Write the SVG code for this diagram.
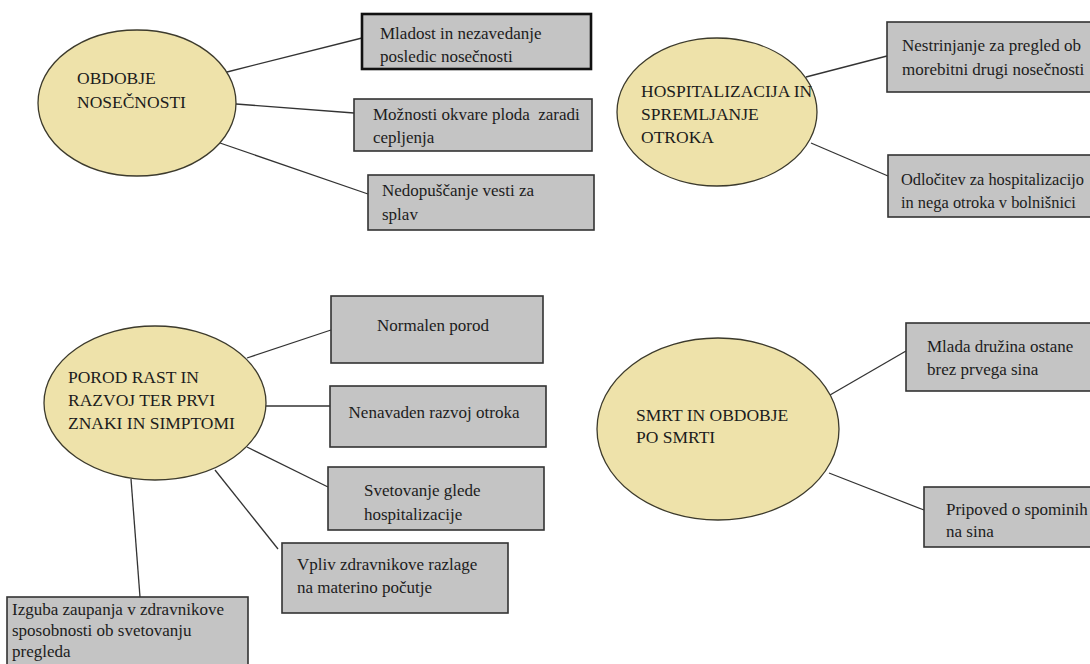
<svg xmlns="http://www.w3.org/2000/svg" width="1090" height="664" viewBox="0 0 1090 664" font-family="Liberation Serif, Times New Roman, serif">
<style>
.bg{fill:#ffffff}
.ell{fill:#EEE2AA;stroke:#3c3a2c;stroke-width:1.3}
.box{fill:#C4C4C4;stroke:#333333;stroke-width:1.6}
.box.thick{stroke:#111111;stroke-width:2.6}
.conn line{stroke:#333333;stroke-width:1.3}
text{font-size:17px;fill:#1c1c1c}
.et{font-size:17.5px}
.sm{font-size:16.4px}
.mid{text-anchor:middle}
</style>
<rect class="bg" x="0" y="0" width="1090" height="664"/>
<g id="connectors" class="conn">
<line x1="227" y1="72" x2="362" y2="38"/>
<line x1="236" y1="104" x2="354" y2="113"/>
<line x1="220" y1="143" x2="368" y2="194"/>
<line x1="806" y1="77" x2="887" y2="56"/>
<line x1="811" y1="143" x2="888" y2="176"/>
<line x1="247" y1="358" x2="331" y2="330"/>
<line x1="266" y1="406" x2="330" y2="406"/>
<line x1="247" y1="447" x2="328" y2="487"/>
<line x1="215" y1="470" x2="278" y2="549"/>
<line x1="131" y1="479" x2="140" y2="597"/>
<line x1="830" y1="395" x2="906" y2="351"/>
<line x1="829" y1="473" x2="924" y2="510"/>
</g>
<g id="n-obdobje">
<ellipse class="ell" cx="137" cy="103" rx="99" ry="73"/>
<text class="et" x="77" y="84">OBDOBJE</text>
<text class="et" x="77" y="108">NOSEČNOSTI</text>
</g>
<g id="n-mladost">
<rect class="box thick" x="362" y="14" width="229" height="55"/>
<text x="380" y="39">Mladost in nezavedanje</text>
<text x="380" y="62">posledic nosečnosti</text>
</g>
<g id="n-moznosti">
<rect class="box" x="354" y="99" width="238" height="52"/>
<text x="373" y="120" xml:space="preserve">Možnosti okvare ploda  zaradi</text>
<text x="373" y="143">cepljenja</text>
</g>
<g id="n-nedopuscanje">
<rect class="box" x="368" y="175" width="226" height="55"/>
<text x="382" y="196">Nedopuščanje vesti za</text>
<text x="382" y="220">splav</text>
</g>
<g id="n-hospitalizacija">
<ellipse class="ell" cx="717" cy="112" rx="100" ry="74"/>
<text class="et" x="641" y="97">HOSPITALIZACIJA IN</text>
<text class="et" x="641" y="120">SPREMLJANJE</text>
<text class="et" x="641" y="143">OTROKA</text>
</g>
<g id="n-nestrinjanje">
<rect class="box" x="887" y="22" width="210" height="70"/>
<text x="902" y="51">Nestrinjanje za pregled ob</text>
<text x="902" y="75">morebitni drugi nosečnosti</text>
</g>
<g id="n-odlocitev">
<rect class="box" x="888" y="155" width="210" height="62"/>
<text class="sm" x="901" y="185">Odločitev za hospitalizacijo</text>
<text class="sm" x="901" y="208">in nega otroka v bolnišnici</text>
</g>
<g id="n-porod">
<ellipse class="ell" cx="155" cy="403" rx="111" ry="77"/>
<text class="et" x="68" y="383">POROD RAST IN</text>
<text class="et" x="68" y="406">RAZVOJ TER PRVI</text>
<text class="et" x="68" y="429">ZNAKI IN SIMPTOMI</text>
</g>
<g id="n-normalen">
<rect class="box" x="331" y="296" width="212" height="67"/>
<text class="mid" x="433" y="331">Normalen porod</text>
</g>
<g id="n-nenavaden">
<rect class="box" x="330" y="386" width="216" height="61"/>
<text class="mid" x="434" y="418">Nenavaden razvoj otroka</text>
</g>
<g id="n-svetovanje">
<rect class="box" x="328" y="467" width="216" height="63"/>
<text x="364" y="496">Svetovanje glede</text>
<text x="364" y="520">hospitalizacije</text>
</g>
<g id="n-vpliv">
<rect class="box" x="282" y="543" width="226" height="70"/>
<text x="297" y="570">Vpliv zdravnikove razlage</text>
<text x="297" y="593">na materino počutje</text>
</g>
<g id="n-izguba">
<rect class="box" x="7" y="597" width="241" height="75"/>
<text x="12" y="615">Izguba zaupanja v zdravnikove</text>
<text x="12" y="636">sposobnosti ob svetovanju</text>
<text x="12" y="657">pregleda</text>
</g>
<g id="n-smrt">
<ellipse class="ell" cx="718" cy="429" rx="121" ry="91"/>
<text class="et" x="636" y="421">SMRT IN OBDOBJE</text>
<text class="et" x="636" y="443">PO SMRTI</text>
</g>
<g id="n-mlada">
<rect class="box" x="906" y="323" width="192" height="68"/>
<text x="927" y="352">Mlada družina ostane</text>
<text x="927" y="375">brez prvega sina</text>
</g>
<g id="n-pripoved">
<rect class="box" x="924" y="487" width="174" height="60"/>
<text x="946" y="515">Pripoved o spominih</text>
<text x="946" y="537">na sina</text>
</g>
</svg>
